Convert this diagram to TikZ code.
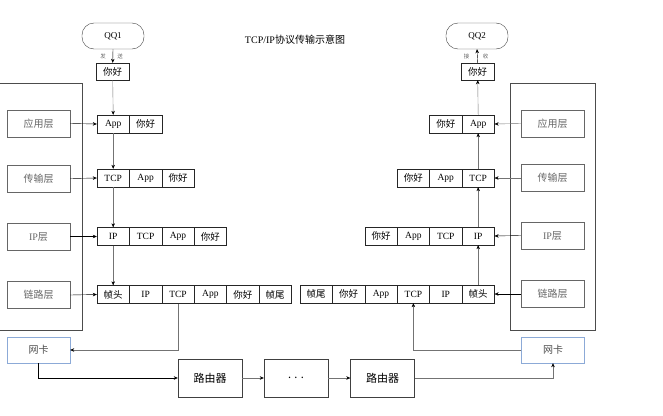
\documentclass[tikz,border=0pt]{standalone}
\usepackage{fontspec}
\setmainfont{Liberation Serif}
\newfontfamily\cjk{Noto Sans CJK SC}
\newcommand{\zh}[1]{{\cjk #1}}
\usetikzlibrary{arrows.meta}
\begin{document}
\begin{tikzpicture}[x=1pt,y=-1pt,
  cell/.style={draw=black!85, minimum width=32.4pt, minimum height=18pt, inner sep=0pt, font=\fontsize{9.5}{9.5}\selectfont},
  layer/.style={draw=black!60, minimum width=63pt, minimum height=27pt, inner sep=0pt, text=black!60, font=\fontsize{10}{10}\selectfont},
  nic/.style={draw={rgb,255:red,140;green,170;blue,215}, minimum width=63pt, minimum height=26pt, inner sep=0pt, text=black!70, font=\fontsize{10}{10}\selectfont\cjk},
  router/.style={draw=black!75, minimum width=64pt, minimum height=38pt, inner sep=0pt, font=\fontsize{11}{11}\selectfont\cjk},
  qq/.style={draw=black!75, rounded corners=12pt, minimum width=62pt, minimum height=26pt, inner sep=0pt, font=\fontsize{9}{9}\selectfont},
  hello/.style={draw=black!85, minimum width=33pt, minimum height=17pt, inner sep=0pt, font=\fontsize{9.5}{9.5}\selectfont\cjk},
  tiny/.style={text=black!60, inner sep=0pt, font=\fontsize{5.5}{5.5}\selectfont\cjk},
  garrow/.style={draw=black!55, -{Stealth[length=4pt,width=3.5pt,color=black]}},
  barrow/.style={draw=black, -{Stealth[length=4pt,width=3.5pt]}},
  frame/.style={draw=black!70}
]
\useasboundingbox (0,0) rectangle (663,415);

% title
\node[font=\fontsize{10}{10}\selectfont] (title) at (295,40) {TCP/IP\zh{协议传输示意图}};

% frames
\draw[frame] (-2,83) rectangle (82,330);
\draw[frame] (510,83) rectangle (595,330);

% QQ nodes
\node[qq] (qq1) at (113,36) {QQ1};
\node[qq] (qq2) at (477,36) {QQ2};
\node[tiny] (fa) at (103,56) {发};
\node[tiny] (song) at (120,56) {送};
\node[tiny] (jie) at (466.5,56) {接};
\node[tiny] (shou) at (485.5,56) {收};
\node[hello] (lh) at (112.7,71.5) {你好};
\node[hello] (rh) at (477.7,71.5) {你好};

% left layer boxes
\node[layer] (lapp) at (38.5,123.5) {\zh{应用层}};
\node[layer] (ltcp) at (38.5,178.5) {\zh{传输层}};
\node[layer] (lip) at (38.5,236.5) {IP\zh{层}};
\node[layer] (llink) at (38.5,295) {\zh{链路层}};
% right layer boxes
\node[layer] (rapp) at (552.5,123.5) {\zh{应用层}};
\node[layer] (rtcp) at (552.5,178) {\zh{传输层}};
\node[layer] (rip) at (552.5,235.5) {IP\zh{层}};
\node[layer] (rlink) at (552.5,294) {\zh{链路层}};

% left rows
\node[cell] (la1) at (113.2,124) {App};
\node[cell] (la2) at (145.6,124) {\zh{你好}};

\node[cell] (lt1) at (113.2,178) {TCP};
\node[cell] (lt2) at (145.6,178) {App};
\node[cell] (lt3) at (178.0,178) {\zh{你好}};

\node[cell] (li1) at (113.2,236.5) {IP};
\node[cell] (li2) at (145.6,236.5) {TCP};
\node[cell] (li3) at (178.0,236.5) {App};
\node[cell] (li4) at (210.4,236.5) {\zh{你好}};

\node[cell] (ll1) at (113.2,294.5) {\zh{帧头}};
\node[cell] (ll2) at (145.6,294.5) {IP};
\node[cell] (ll3) at (178.0,294.5) {TCP};
\node[cell] (ll4) at (210.4,294.5) {App};
\node[cell] (ll5) at (242.8,294.5) {\zh{你好}};
\node[cell] (ll6) at (275.2,294.5) {\zh{帧尾}};

% right rows
\node[cell] (ra1) at (445.8,124) {\zh{你好}};
\node[cell] (ra2) at (478.2,124) {App};

\node[cell] (rt1) at (413.4,178) {\zh{你好}};
\node[cell] (rt2) at (445.8,178) {App};
\node[cell] (rt3) at (478.2,178) {TCP};

\node[cell] (ri1) at (381.0,236) {\zh{你好}};
\node[cell] (ri2) at (413.4,236) {App};
\node[cell] (ri3) at (445.8,236) {TCP};
\node[cell] (ri4) at (478.2,236) {IP};

\node[cell] (rl1) at (316.2,294) {\zh{帧尾}};
\node[cell] (rl2) at (348.6,294) {\zh{你好}};
\node[cell] (rl3) at (381.0,294) {App};
\node[cell] (rl4) at (413.4,294) {TCP};
\node[cell] (rl5) at (445.8,294) {IP};
\node[cell] (rl6) at (478.2,294) {\zh{帧头}};

% network cards and routers
\node[nic] (nic1) at (38.5,350) {网卡};
\node[nic] (nic2) at (553,350) {网卡};
\node[router] (r1) at (210,378) {路由器};
\node[router] (dots) at (296,378) {. . .};
\node[router] (r2) at (382.5,378) {路由器};

% left vertical flow
\draw[barrow] (qq1.south) -- (lh.north);
\draw[garrow] (lh.south) -- (la1.north);
\draw[garrow] (la1.south) -- (lt1.north);
\draw[garrow] (lt1.south) -- (li1.north);
\draw[garrow] (li1.south) -- (ll1.north);

% left layer arrows
\draw[barrow] (lapp.east) -- (la1.west);
\draw[barrow] (ltcp.east) -- (lt1.west);
\draw[barrow] (lip.east) -- (li1.west);
\draw[barrow] (llink.east) -- (ll1.west);

% right vertical flow
\draw[garrow] (rl6.north) -- (ri4.south);
\draw[garrow] (ri4.north) -- (rt3.south);
\draw[garrow] (rt3.north) -- (ra2.south);
\draw[garrow] (ra2.north) -- (rh.south);
\draw[barrow] (rh.north) -- (qq2.south);

% right layer arrows
\draw[garrow] (rapp.west) -- (ra2.east);
\draw[garrow] (rtcp.west) -- (rt3.east);
\draw[barrow] (rip.west) -- (ri4.east);
\draw[barrow] (rlink.west) -- (rl6.east);

% network path
\draw[garrow] (ll3.south) |- (nic1.east);
\draw[barrow] (nic1.south) |- (r1.west);
\draw[garrow] (r1.east) -- (dots.west);
\draw[garrow] (dots.east) -- (r2.west);
\draw[garrow] (r2.east) -| (nic2.south);
\draw[garrow] (nic2.west) -| (rl4.south);
\end{tikzpicture}
\end{document}
